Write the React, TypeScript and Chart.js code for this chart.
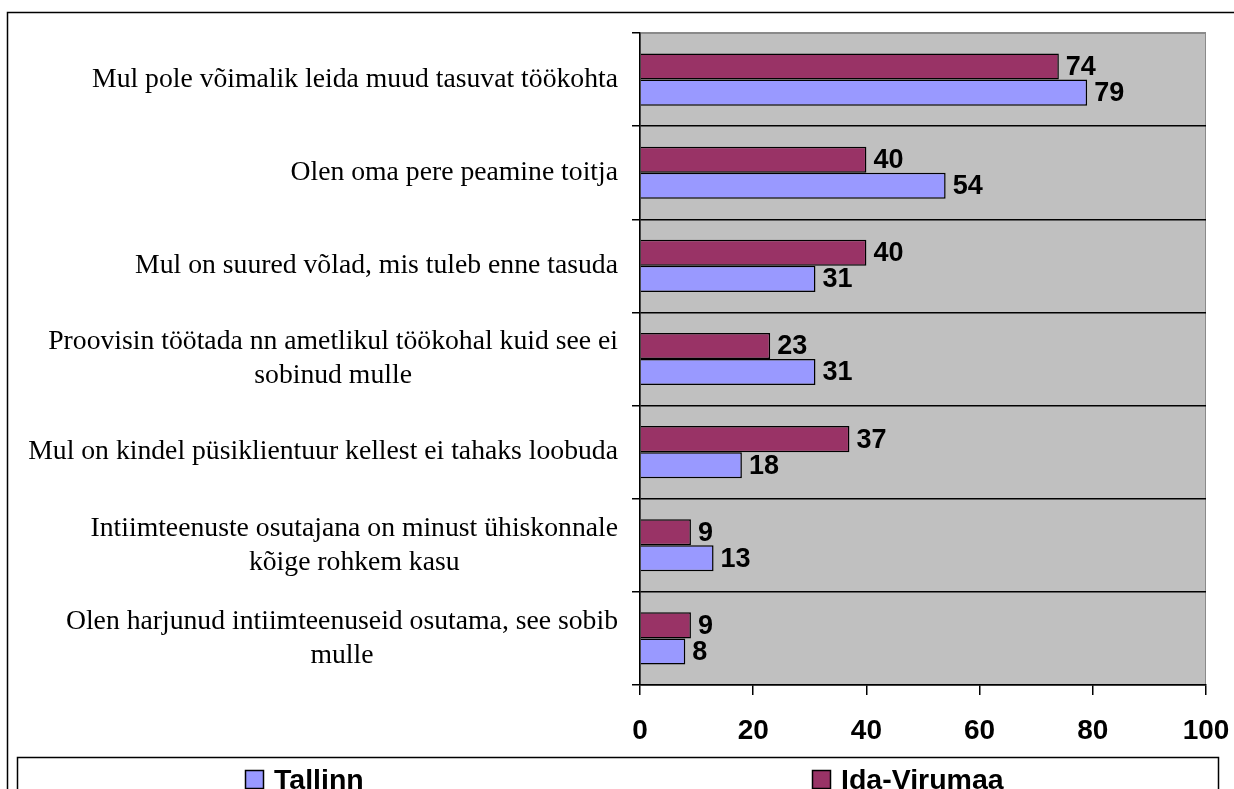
import React, { useEffect, useRef } from "react";
import { Chart, registerables } from "chart.js";

Chart.register(...registerables);

const categories: string[][] = [
  ["Mul pole võimalik leida muud tasuvat töökohta"],
  ["Olen oma pere peamine toitja"],
  ["Mul on suured võlad, mis tuleb enne tasuda"],
  ["Proovisin töötada nn ametlikul töökohal kuid see ei", "sobinud mulle"],
  ["Mul on kindel püsiklientuur kellest ei tahaks loobuda"],
  ["Intiimteenuste osutajana on minust ühiskonnale", "kõige rohkem kasu"],
  ["Olen harjunud intiimteenuseid osutama, see sobib", "mulle"],
];

const seriesNames = ["Tallinn", "Ida-Virumaa"];
const tallinn = [79, 54, 31, 31, 18, 13, 8];
const idaVirumaa = [74, 40, 40, 23, 37, 9, 9];
const xMin = 0;
const xMax = 100;
const xStep = 20;

const COLORS = { Tallinn: "#9999FF", "Ida-Virumaa": "#993366" } as Record<string, string>;
const SANS = "'Liberation Sans', Arial, sans-serif";
const SERIF = "'Liberation Serif', 'Times New Roman', serif";

const decor = {
  id: "decor",
  beforeDraw(chart: any) {
    const { ctx, chartArea: a } = chart;
    ctx.save();
    ctx.fillStyle = "#ffffff";
    ctx.fillRect(0, 0, chart.width, chart.height);
    ctx.fillStyle = "#C0C0C0";
    ctx.fillRect(a.left, a.top, a.right - a.left, a.bottom - a.top);
    ctx.strokeStyle = "#8a8a8a";
    ctx.lineWidth = 1;
    ctx.strokeRect(a.left + 0.5, a.top + 0.5, a.right - a.left - 1, a.bottom - a.top - 1);
    ctx.restore();
  },
  afterDraw(chart: any) {
    const { ctx } = chart;
    const yScale = chart.scales.y;
    ctx.save();
    // category labels (multi-line, lines centred within a right-aligned block)
    ctx.font = `27.7px ${SERIF}`;
    ctx.fillStyle = "#000";
    ctx.textBaseline = "middle";
    ctx.textAlign = "center";
    const rightX = yScale.right - 22;
    const lineH = 34;
    (chart.data.labels as string[][]).forEach((lines, i) => {
      const yc = yScale.getPixelForValue(i);
      const w = Math.max(...lines.map((l) => ctx.measureText(l).width));
      const cx = rightX - w / 2;
      lines.forEach((l, j) => {
        ctx.fillText(l, cx, yc + (j - (lines.length - 1) / 2) * lineH);
      });
    });
    // value labels
    ctx.font = `bold 27px ${SANS}`;
    ctx.textAlign = "left";
    chart.data.datasets.forEach((ds: any, d: number) => {
      const meta = chart.getDatasetMeta(d);
      meta.data.forEach((bar: any, i: number) => {
        ctx.fillText(String(ds.data[i]), bar.x + 7, bar.y + 1);
      });
    });
    // outer frame
    ctx.strokeStyle = "#000";
    ctx.lineWidth = 1.5;
    ctx.strokeRect(7.5, 12.5, chart.width + 20, chart.height + 20);
    // legend box
    ctx.strokeRect(17.5, 757.5, 1201, 100);
    const legendX = [245, 812];
    ctx.font = `bold 28.5px ${SANS}`;
    ctx.textBaseline = "alphabetic";
    seriesNames.forEach((name, k) => {
      const x = legendX[k];
      ctx.fillStyle = COLORS[name];
      ctx.fillRect(x, 770, 19, 19);
      ctx.lineWidth = 1.5;
      ctx.strokeRect(x + 0.5, 770.5, 18, 18);
      ctx.fillStyle = "#000";
      ctx.fillText(name, x + 29, 789);
    });
    ctx.restore();
  },
};

export default function App() {
  const ref = useRef<HTMLCanvasElement>(null);
  useEffect(() => {
    document.body.style.margin = "0";
    const chart = new Chart(ref.current!, {
      type: "bar",
      data: {
        labels: categories as any,
        datasets: [
          {
            label: "Ida-Virumaa",
            data: idaVirumaa,
            backgroundColor: COLORS["Ida-Virumaa"],
            borderColor: "#000",
            borderWidth: 1.5,
            categoryPercentage: 0.56,
            barPercentage: 1,
          },
          {
            label: "Tallinn",
            data: tallinn,
            backgroundColor: COLORS["Tallinn"],
            borderColor: "#000",
            borderWidth: 1.5,
            categoryPercentage: 0.56,
            barPercentage: 1,
          },
        ],
      },
      options: {
        indexAxis: "y",
        animation: false,
        responsive: false,
        devicePixelRatio: 1,
        layout: { padding: { top: 33, right: 28, bottom: 0, left: 0 } },
        plugins: { legend: { display: false }, tooltip: { enabled: false } },
        scales: {
          x: {
            min: xMin,
            max: xMax,
            ticks: {
              stepSize: xStep,
              color: "#000",
              font: { family: SANS, size: 28, weight: "bold" },
              padding: 19,
            },
            grid: { drawOnChartArea: false, drawTicks: true, tickLength: 10, tickColor: "#000", lineWidth: 1.5 },
            border: { color: "#000", width: 1.5 },
            afterFit: (s: any) => {
              s.height = 104;
              s.paddingLeft = 0;
              s.paddingRight = 0;
            },
          },
          y: {
            ticks: { display: false },
            grid: {
              color: (c: any) => (c.index === 0 ? "#8a8a8a" : "#000"),
              tickColor: "#000",
              tickLength: 8,
              lineWidth: 1.5,
            },
            border: { color: "#000", width: 1.5 },
            afterFit: (s: any) => {
              s.width = 640;
              s.paddingTop = 0;
              s.paddingBottom = 0;
            },
          },
        },
      },
      plugins: [decor],
    } as any);
    return () => chart.destroy();
  }, []);
  return (
    <div style={{ position: "absolute", left: 0, top: 0, width: 1234, height: 789 }}>
      <canvas ref={ref} width={1234} height={789} />
    </div>
  );
}
